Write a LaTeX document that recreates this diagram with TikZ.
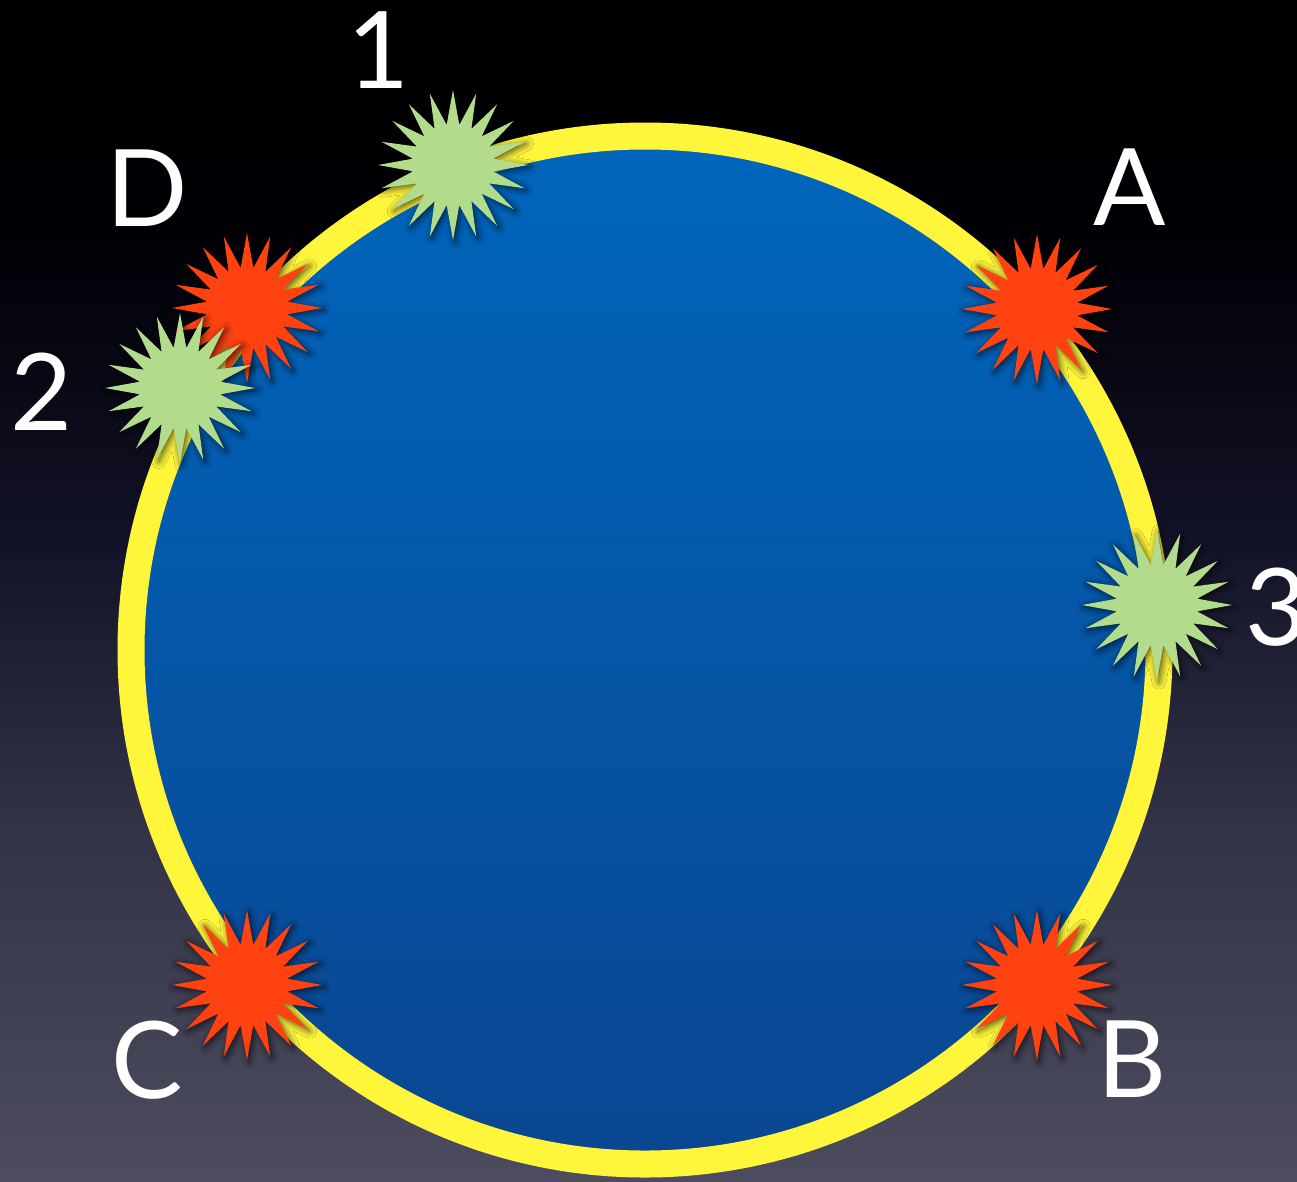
\documentclass[tikz,border=0pt]{standalone}
\usepackage{fontspec}
\setmainfont{Lato}
\usetikzlibrary{shapes.geometric,shadows.blur}
\pgfdeclareverticalshading{bgshade}{100bp}{rgb(0bp)=(0.30,0.30,0.37); rgb(25bp)=(0.30,0.30,0.37); rgb(40bp)=(0.20,0.20,0.28); rgb(52.5bp)=(0.07,0.07,0.15); rgb(65bp)=(0,0,0.02); rgb(75bp)=(0,0,0); rgb(100bp)=(0,0,0)}
\definecolor{ringyellow}{RGB}{255,246,60}
\definecolor{bluetop}{RGB}{0,102,188}
\definecolor{bluebot}{RGB}{10,70,145}
\definecolor{burstred}{RGB}{255,66,16}
\definecolor{burstgreen}{RGB}{178,220,140}
\begin{document}
\begin{tikzpicture}[x=1pt,y=-1pt,
  burst/.style={star, star points=20, star point ratio=1.85, minimum size=150pt, inner sep=0pt, draw=none,
    blur shadow={shadow xshift=2pt, shadow yshift=-2pt, shadow blur radius=7pt, shadow opacity=70}},
  redburst/.style={burst, fill=burstred},
  greenburst/.style={burst, fill=burstgreen},
  lbl/.style={text=white, font=\fontsize{107}{107}\selectfont, anchor=base, inner sep=0pt}]
\useasboundingbox (0,0) rectangle (1297,1181);
\path[shading=bgshade] (0,0) rectangle (1297,1181);
\path[draw=ringyellow, line width=27pt, top color=bluetop, bottom color=bluebot] (645,650) circle (514);
\node[redburst] (sA) at (1037,309) {};
\node[redburst] (sB) at (1037,985) {};
\node[redburst] (sC) at (247,985) {};
\node[redburst] (sD) at (247,308) {};
\node[greenburst] (s1) at (453,165) {};
\node[greenburst] (s2) at (180,388) {};
\node[greenburst] (s3) at (1157,605) {};
\node[lbl] (l1) at (379,88) {1};
\node[lbl] (lD) at (147,226) {D};
\node[lbl] (lA) at (1130,225) {A};
\node[lbl] (l2) at (42,430) {2};
\node[lbl] (l3) at (1277,645) {3};
\node[lbl] (lC) at (147,1098) {C};
\node[lbl] (lB) at (1132,1097) {B};
\end{tikzpicture}
\end{document}
